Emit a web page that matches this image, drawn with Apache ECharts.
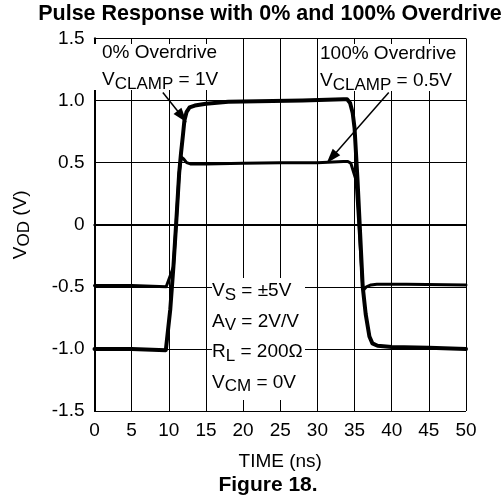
<!DOCTYPE html>
<html>
<head>
<meta charset="utf-8">
<script src="https://cdn.jsdelivr.net/npm/echarts@6/dist/echarts.min.js"></script>
<style>
html,body{margin:0;padding:0;background:#fff;}
#chart{width:503px;height:500px;}
</style>
</head>
<body>
<div id="chart"></div>
<script>
// ---- data (time in ns, voltage in V) ----
var xTickLabels = ['0','5','10','15','20','25','30','35','40','45','50'];
var yTickLabels = ['-1.5','-1.0','-0.5','0','0.5','1.0','1.5'];

// 0% overdrive, VCLAMP = 1V
var timeA = [0, 5, 9.6, 9.75, 10.2, 10.62, 11.0, 11.4, 11.65, 11.9, 12.1, 12.4, 12.8, 13.5, 15, 18, 22, 28, 33.5, 34.0, 34.4, 34.75, 35.0, 35.4, 35.75, 36.1, 36.5, 37.0, 37.4, 38.1, 40, 45, 50];
var voltA = [-1.0, -1.0, -1.01, -1.015, -0.68, -0.34, 0.02, 0.42, 0.58, 0.72, 0.84, 0.91, 0.945, 0.96, 0.975, 0.99, 0.995, 1.0, 1.01, 1.01, 0.98, 0.9, 0.78, 0.36, -0.07, -0.5, -0.72, -0.9, -0.955, -0.975, -0.985, -0.99, -1.0];

// 100% overdrive, VCLAMP = 0.5V
var timeB = [0, 5, 9.65, 10.62, 11.0, 11.4, 11.7, 12.0, 12.4, 12.9, 15, 20, 25, 30, 33.5, 34.1, 34.5, 34.75, 35.2, 35.65, 36.1, 36.3, 36.6, 37.2, 38, 42, 50];
var voltB = [-0.49, -0.49, -0.5, -0.34, 0.02, 0.42, 0.545, 0.53, 0.5, 0.49, 0.49, 0.495, 0.5, 0.5, 0.51, 0.51, 0.495, 0.48, 0.36, -0.07, -0.5, -0.52, -0.5, -0.485, -0.48, -0.48, -0.485];

// annotation arrows: [startTime, startVolt, tipTime, tipVolt]
var arrow1 = [9.2, 1.065, 11.8, 0.87];
var arrow2 = [39.6, 1.065, 31.9, 0.54];

function pairs(xs, ys){ return xs.map(function(x,i){ return [x, ys[i]]; }); }

var FONT = "'Liberation Sans', Arial, sans-serif";
var chart = echarts.init(document.getElementById('chart'), null, {renderer:'canvas'});

var axisLineStyle = {show:true, lineStyle:{color:'#000', width:2}};
var noTick = {show:false};
var topTick = {show:true, inside:true, length:5, lineStyle:{color:'#000', width:1}};
var splitStyle = {show:true, lineStyle:{color:'#000', width:1}};

var option = {
  animation:false,
  backgroundColor:'#fff',
  title:[
    {text:'Pulse Response with 0% and 100% Overdrive', left:270, top:3, textAlign:'center', padding:0,
     textStyle:{fontFamily:FONT, fontSize:21.5, fontWeight:'bold', color:'#000'}},
    {text:'Figure 18.', left:268, top:475, textAlign:'center', padding:0,
     textStyle:{fontFamily:FONT, fontSize:21, fontWeight:'bold', color:'#000'}}
  ],
  grid:{left:91, right:37, top:38.5, bottom:89, containLabel:false},
  xAxis:[
    {type:'value', min:0, max:50, interval:5, position:'bottom',
     axisLine:axisLineStyle, axisTick:noTick, splitLine:splitStyle,
     axisLabel:{fontFamily:FONT, fontSize:19, color:'#000', margin:10,
       formatter:function(v){ return xTickLabels[Math.round(v/5)]; }},
     name:'TIME (ns)', nameLocation:'middle', nameGap:41,
     nameTextStyle:{fontFamily:FONT, fontSize:19, color:'#000'}},
    {type:'value', min:0, max:50, interval:5, position:'top',
     axisLine:axisLineStyle, axisTick:topTick, splitLine:{show:false},
     axisLabel:{show:false}}
  ],
  yAxis:[
    {type:'value', min:-1.5, max:1.5, interval:0.5, position:'left',
     axisLine:axisLineStyle, axisTick:noTick, splitLine:splitStyle,
     axisLabel:{fontFamily:FONT, fontSize:19, color:'#000', margin:10,
       formatter:function(v){ return yTickLabels[Math.round((v+1.5)/0.5)]; }},
     name:'{a|V}{s|OD}{a| (V)}', nameLocation:'middle', nameGap:62, nameRotate:90,
     nameTextStyle:{fontFamily:FONT, fontSize:19, color:'#000',
       rich:{a:{fontFamily:FONT, fontSize:19, color:'#000', lineHeight:24},
             s:{fontFamily:FONT, fontSize:17, color:'#000', lineHeight:24, padding:[8,0,0,0]}}}},
    {type:'value', min:-1.5, max:1.5, interval:0.5, position:'right',
     axisLine:axisLineStyle, axisTick:noTick, splitLine:{show:false},
     axisLabel:{show:false}}
  ],
  graphic:[
    {type:'rect', z:1, shape:{x:93, y:44, width:135, height:46}, style:{fill:'#fff'}},
    {type:'rect', z:1, shape:{x:318, y:44, width:145, height:47}, style:{fill:'#fff'}},
    {type:'rect', z:1, shape:{x:212, y:278, width:93, height:122}, style:{fill:'#fff'}},
    {type:'text', z:2, x:102, y:39.5, style:{
      text:'{a|0% Overdrive}\n{a|V}{s|CLAMP}{a| = 1V}',
      rich:{a:{fontFamily:FONT, fontSize:19, fill:'#000', lineHeight:27},
            s:{fontFamily:FONT, fontSize:17, fill:'#000', lineHeight:27, padding:[8,0,0,0]}}}},
    {type:'text', z:2, x:320, y:40.5, style:{
      text:'{a|100% Overdrive}\n{a|V}{s|CLAMP}{a| = 0.5V}',
      rich:{a:{fontFamily:FONT, fontSize:19, fill:'#000', lineHeight:27},
            s:{fontFamily:FONT, fontSize:17, fill:'#000', lineHeight:27, padding:[8,0,0,0]}}}},
    {type:'text', z:2, x:212, y:276, style:{
      text:'{a|V}{s|S}{a| = ±5V}\n{a|A}{s|V}{a| = 2V/V}\n{a|R}{s|L}{a| = 200Ω}\n{a|V}{s|CM}{a| = 0V}',
      rich:{a:{fontFamily:FONT, fontSize:19, fill:'#000', lineHeight:30.5},
            s:{fontFamily:FONT, fontSize:17, fill:'#000', lineHeight:30.5, padding:[8,0,0,0]}}}}
  ],
  series:[
    {type:'line', name:'0% Overdrive', data:pairs(timeA, voltA), showSymbol:false, symbol:'none',
     z:3, lineStyle:{color:'#000', width:4, cap:'round', join:'round'},
     markLine:{silent:true, symbol:['none','triangle'], symbolSize:[10,15], label:{show:false},
       lineStyle:{color:'#000', width:1.5, type:'solid'},
       data:[[{coord:[arrow1[0], arrow1[1]]},{coord:[arrow1[2], arrow1[3]]}]]}},
    {type:'line', name:'100% Overdrive', data:pairs(timeB, voltB), showSymbol:false, symbol:'none',
     z:3, lineStyle:{color:'#000', width:3, cap:'round', join:'round'},
     markLine:{silent:true, symbol:['none','triangle'], symbolSize:[10,15], label:{show:false},
       lineStyle:{color:'#000', width:1.5, type:'solid'},
       data:[[{coord:[arrow2[0], arrow2[1]]},{coord:[arrow2[2], arrow2[3]]}]]}}
  ]
};
chart.setOption(option);
</script>
</body>
</html>
